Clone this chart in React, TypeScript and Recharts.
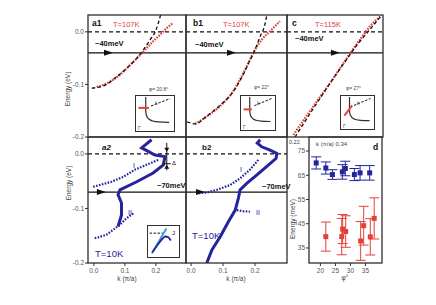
import React from "react";
import {
  ErrorBar,
  Line,
  LineChart,
  ReferenceDot,
  ReferenceLine,
  Scatter,
  ScatterChart,
  XAxis,
  YAxis,
} from "recharts";

const FONT = '"Liberation Sans", Arial, sans-serif';
const RED = "#e4403a";
const BLUE = "#24249c";
const LIGHT_BLUE = "#3f9fdc";
const INK = "#2f2f2f";

// a1: T=107K, phi=20.8
const a1RedK = [0.009, 0.052, 0.089, 0.122, 0.154, 0.17, 0.191, 0.213, 0.235, 0.256];
const a1RedE = [-0.105, -0.095, -0.079, -0.06, -0.041, -0.031, -0.018, -0.006, 0.007, 0.017];
const a1BareK = [-0.007, 0.03, 0.07, 0.11, 0.14, 0.16, 0.18, 0.2, 0.215];
const a1BareE = [-0.107, -0.103, -0.087, -0.067, -0.049, -0.034, -0.016, 0.003, 0.032];

// b1: T=107K, phi=22
const b1RedK = [0.0125, 0.049, 0.091, 0.127, 0.158, 0.184, 0.2, 0.221, 0.247, 0.278];
const b1RedE = [-0.175, -0.161, -0.141, -0.117, -0.085, -0.053, -0.034, -0.015, 0.001, 0.02];
const b1BareK = [-0.013, 0.0125, 0.05, 0.09, 0.13, 0.16, 0.185, 0.2, 0.215, 0.23, 0.237];
const b1BareE = [-0.171, -0.175, -0.16, -0.14, -0.115, -0.085, -0.053, -0.034, -0.01, 0.012, 0.032];

// c: T=115K, phi=27
const cRedK = [0.02, 0.082, 0.134, 0.187, 0.228, 0.259, 0.291];
const cRedE = [-0.196, -0.142, -0.098, -0.05, -0.015, 0.01, 0.029];
const cBareK = [0.025, 0.08, 0.13, 0.18, 0.22, 0.26, 0.296];
const cBareE = [-0.2, -0.148, -0.102, -0.058, -0.024, 0.005, 0.032];

// a2: T=10K
const a2MainK = [0.186, 0.154, 0.197, 0.229, 0.224, 0.191, 0.138, 0.084, 0.078, 0.089, 0.089, 0.078];
const a2MainE = [0.026, 0.011, -0.002, -0.005, -0.02, -0.035, -0.051, -0.066, -0.075, -0.09, -0.112, -0.133];
const a2IK = [0.207, 0.17, 0.132, 0.095, 0.057, 0.019, -0.007];
const a2IE = [-0.011, -0.02, -0.029, -0.042, -0.051, -0.057, -0.061];
const a2IIK = [0.127, 0.105, 0.084, 0.062, 0.041, 0.014, -0.002];
const a2IIE = [-0.109, -0.118, -0.13, -0.139, -0.148, -0.153, -0.155];

// b2: T=10K
const b2MainK = [0.216, 0.207, 0.221, 0.247, 0.268, 0.266, 0.237, 0.205, 0.174, 0.153, 0.148, 0.138, 0.117, 0.091, 0.065, 0.049];
const b2MainE = [0.026, 0.02, 0.013, 0.007, 0.001, -0.008, -0.023, -0.039, -0.054, -0.066, -0.081, -0.103, -0.124, -0.152, -0.176, -0.2];
const b2IK = [0.21, 0.184, 0.153, 0.122, 0.08, 0.049, 0.023];
const b2IE = [-0.011, -0.029, -0.045, -0.057, -0.066, -0.071, -0.072];
const b2IIK = [0.143, 0.162, 0.184];
const b2IIE = [-0.103, -0.105, -0.106];

// d: energy scales vs phi
const dBluePhi = [18.6, 21.8, 24.0, 27.3, 28.3, 31.3, 33.2, 36.4];
const dBlueE = [70.1, 68.0, 65.3, 66.4, 67.8, 65.3, 66.0, 66.0];
const dBlueErr = [2.5, 2.5, 2, 3, 3, 2.5, 3, 3];
const dRedPhi = [21.8, 27.1, 27.4, 28.4, 33.4, 34.4, 36.6, 37.9];
const dRedE = [39.7, 39.7, 42.8, 41.8, 37.9, 44.2, 39.6, 47.2];
const dRedErr = [6, 7.5, 6, 6.5, 8, 8, 7.5, 8.5];

// insets
const fsX = [0.25, 0.25, 0.27, 0.33, 0.45, 0.62, 0.92];
const fsY = [1.0, 0.55, 0.42, 0.32, 0.25, 0.22, 0.21];
const cutX = [0.4, 0.95];
const cutY = [0.72, 0.95];
const a1CutX = [0.04, 0.34];
const a1CutY = [0.66, 0.66];
const b1CutX = [0.05, 0.32];
const b1CutY = [0.6, 0.6];
const cCutX = [0.08, 0.34];
const cCutY = [0.38, 0.72];
const a2LightX = [0.1, 0.62];
const a2LightY = [0.05, 0.95];
const a2DarkX = [0.12, 0.3, 0.48, 0.58, 0.68, 0.78];
const a2DarkY = [0.1, 0.35, 0.58, 0.66, 0.64, 0.52];
const a2FermiX = [0.02, 0.5];
const a2FermiY = [0.78, 0.78];

const pts = (ks: number[], es: number[]) => ks.map((k, i) => ({ k, e: es[i] }));
const dPts = (ps: number[], es: number[], errs: number[]) =>
  ps.map((phi, i) => ({ phi, e: es[i], err: errs[i] }));

const TICK = { fontSize: 6.5, fill: "#555", fontFamily: FONT };
const f1 = (v: number) => v.toFixed(1);

const arrowRight = (p: any) => (
  <polygon
    points={`${p.cx - 6},${p.cy - 3} ${p.cx + 3},${p.cy} ${p.cx - 6},${p.cy + 3}`}
    fill="#111"
  />
);
const triDown = (p: any) => (
  <polygon points={`${p.cx - 2.5},${p.cy - 4} ${p.cx + 2.5},${p.cy - 4} ${p.cx},${p.cy}`} fill="#111" />
);
const triUp = (p: any) => (
  <polygon points={`${p.cx - 2.5},${p.cy + 4} ${p.cx + 2.5},${p.cy + 4} ${p.cx},${p.cy}`} fill="#111" />
);
const square = (color: string) => (p: any) => (
  <rect x={p.cx - 2.5} y={p.cy - 2.5} width={5} height={5} fill={color} />
);

const lineProps = { dot: false, isAnimationActive: false, dataKey: "e" } as const;

function Panel({
  x,
  y,
  w,
  h,
  xDomain,
  yDomain,
  xTicks,
  yTicks,
  children,
}: {
  x: number;
  y: number;
  w: number;
  h: number;
  xDomain: [number, number];
  yDomain: [number, number];
  xTicks?: number[];
  yTicks?: number[];
  children: React.ReactNode;
}) {
  const padL = 30;
  const padB = 22;
  return (
    <div style={{ position: "absolute", left: x - padL, top: y }}>
      <LineChart width={w + padL} height={h + padB} margin={{ top: 0, right: 0, bottom: 0, left: 0 }}>
        <XAxis
          type="number"
          dataKey="k"
          domain={xDomain}
          allowDataOverflow
          height={padB}
          ticks={xTicks}
          tick={xTicks ? TICK : false}
          tickLine={xTicks ? { stroke: INK } : false}
          tickSize={3}
          tickMargin={2}
          axisLine={false}
          tickFormatter={f1}
        />
        <YAxis
          type="number"
          domain={yDomain}
          allowDataOverflow
          width={padL}
          ticks={yTicks}
          tick={yTicks ? TICK : false}
          tickLine={yTicks ? { stroke: INK } : false}
          tickSize={3}
          tickMargin={1}
          axisLine={false}
          tickFormatter={f1}
        />
        {children}
      </LineChart>
    </div>
  );
}

function Inset({
  x,
  y,
  w,
  h,
  children,
}: {
  x: number;
  y: number;
  w: number;
  h: number;
  children: React.ReactNode;
}) {
  return (
    <div
      style={{
        position: "absolute",
        left: x,
        top: y,
        width: w,
        height: h,
        background: "#fff",
        border: `1.3px solid ${INK}`,
        boxSizing: "border-box",
      }}
    >
      <LineChart width={w - 3} height={h - 3} margin={{ top: 1, right: 1, bottom: 1, left: 1 }}>
        <XAxis type="number" dataKey="k" domain={[0, 1]} hide />
        <YAxis type="number" domain={[0, 1]} hide />
        {children}
      </LineChart>
    </div>
  );
}

function FsInset({ x, y, w, h, cx, cy }: { x: number; y: number; w: number; h: number; cx: number[]; cy: number[] }) {
  return (
    <Inset x={x} y={y} w={w} h={h}>
      <Line {...lineProps} data={pts(fsX, fsY)} stroke={INK} strokeWidth={1.2} type="monotone" />
      <Line {...lineProps} data={pts(cutX, cutY)} stroke="#111" strokeWidth={1} strokeDasharray="2.5 1.5" type="linear" />
      <Line {...lineProps} data={pts(cx, cy)} stroke={RED} strokeWidth={2} type="linear" />
    </Inset>
  );
}

const TOP_Y: [number, number] = [-0.2, 0.032];
const BOT_Y: [number, number] = [-0.2, 0.031];
const A_X: [number, number] = [-0.019, 0.297];
const B_X: [number, number] = [-0.016, 0.3];
const C_X: [number, number] = [0, 0.3];

const redDots = { stroke: RED, strokeWidth: 2.2, strokeDasharray: "1.6 1.2", type: "monotone" } as const;
const bareDash = { stroke: "#111", strokeWidth: 1.3, strokeDasharray: "3.5 2.5", type: "monotone" } as const;
const blueSolid = { stroke: BLUE, strokeWidth: 3, type: "linear" } as const;
const blueDots = { stroke: BLUE, strokeWidth: 2.2, strokeDasharray: "1.6 1.4", type: "linear" } as const;

export default function App() {
  const t = { fontFamily: FONT };
  return (
    <div style={{ position: "absolute", left: 0, top: 0, width: 436, height: 305, background: "#fff", overflow: "hidden" }}>
      {/* top row */}
      <Panel x={88} y={15} w={98} h={122} xDomain={A_X} yDomain={TOP_Y} yTicks={[0, -0.1, -0.2]}>
        <ReferenceLine y={0} stroke="#111" strokeDasharray="4 3" strokeWidth={1.2} />
        <ReferenceLine y={-0.04} stroke="#111" strokeWidth={1.3} />
        <Line {...lineProps} {...redDots} data={pts(a1RedK, a1RedE)} />
        <Line {...lineProps} {...bareDash} data={pts(a1BareK, a1BareE)} />
        <ReferenceDot x={0.052} y={-0.04} shape={arrowRight} />
      </Panel>
      <Panel x={186} y={15} w={101} h={122} xDomain={B_X} yDomain={TOP_Y}>
        <ReferenceLine y={0} stroke="#111" strokeDasharray="4 3" strokeWidth={1.2} />
        <ReferenceLine y={-0.04} stroke="#111" strokeWidth={1.3} />
        <Line {...lineProps} {...redDots} data={pts(b1RedK, b1RedE)} />
        <Line {...lineProps} {...bareDash} data={pts(b1BareK, b1BareE)} />
        <ReferenceDot x={0.131} y={-0.04} shape={arrowRight} />
      </Panel>
      <Panel x={287} y={15} w={96} h={122} xDomain={C_X} yDomain={TOP_Y}>
        <ReferenceLine y={0} stroke="#111" strokeDasharray="4 3" strokeWidth={1.2} />
        <ReferenceLine y={-0.04} stroke="#111" strokeWidth={1.3} />
        <Line {...lineProps} {...redDots} data={pts(cRedK, cRedE)} />
        <Line {...lineProps} {...bareDash} data={pts(cBareK, cBareE)} />
        <ReferenceDot x={0.156} y={-0.04} shape={arrowRight} />
      </Panel>

      {/* bottom row */}
      <Panel x={88} y={137} w={98} h={126} xDomain={A_X} yDomain={BOT_Y} xTicks={[0, 0.1, 0.2]} yTicks={[0, -0.1, -0.2]}>
        <ReferenceLine y={0} stroke="#111" strokeDasharray="4 3" strokeWidth={1.2} />
        <ReferenceLine y={-0.07} stroke="#111" strokeWidth={1.3} />
        <Line {...lineProps} {...blueDots} data={pts(a2IK, a2IE)} />
        <Line {...lineProps} {...blueDots} data={pts(a2IIK, a2IIE)} />
        <Line {...lineProps} {...blueSolid} data={pts(a2MainK, a2MainE)} />
        <ReferenceDot x={0.029} y={-0.07} shape={arrowRight} />
        <ReferenceLine segment={[{ x: 0.235, y: 0.02 }, { x: 0.235, y: -0.03 }]} stroke="#111" strokeWidth={1} />
        <ReferenceLine segment={[{ x: 0.222, y: -0.018 }, { x: 0.248, y: -0.018 }]} stroke="#111" strokeWidth={1} />
        <ReferenceDot x={0.235} y={0.004} shape={triDown} />
        <ReferenceDot x={0.235} y={-0.02} shape={triUp} />
      </Panel>
      <Panel x={186} y={137} w={101} h={126} xDomain={B_X} yDomain={BOT_Y} xTicks={[0, 0.1, 0.2]}>
        <ReferenceLine y={0} stroke="#111" strokeDasharray="4 3" strokeWidth={1.2} />
        <ReferenceLine y={-0.07} stroke="#111" strokeWidth={1.3} />
        <Line {...lineProps} {...blueDots} data={pts(b2IK, b2IE)} />
        <Line {...lineProps} {...blueDots} data={pts(b2IIK, b2IIE)} />
        <Line {...lineProps} {...blueSolid} data={pts(b2MainK, b2MainE)} />
        <ReferenceDot x={0.034} y={-0.07} shape={arrowRight} />
      </Panel>

      {/* d panel */}
      <div style={{ position: "absolute", left: 309 - 30, top: 137 }}>
        <ScatterChart width={73 + 30} height={126 + 22} margin={{ top: 0, right: 0, bottom: 0, left: 0 }}>
          <XAxis
            type="number"
            dataKey="phi"
            domain={[16.2, 40.5]}
            ticks={[20, 25, 30, 35]}
            height={22}
            tick={TICK}
            tickLine={{ stroke: INK }}
            tickSize={3}
            tickMargin={2}
            axisLine={false}
          />
          <YAxis
            type="number"
            dataKey="e"
            domain={[28.8, 80.8]}
            ticks={[35, 45, 55, 65, 75]}
            width={30}
            tick={TICK}
            tickLine={{ stroke: INK }}
            tickSize={3}
            tickMargin={1}
            axisLine={false}
          />
          <Scatter data={dPts(dBluePhi, dBlueE, dBlueErr)} fill={BLUE} shape={square(BLUE)} isAnimationActive={false}>
            <ErrorBar dataKey="err" direction="y" width={5} stroke={BLUE} strokeWidth={1} isAnimationActive={false} />
          </Scatter>
          <Scatter data={dPts(dRedPhi, dRedE, dRedErr)} fill={RED} shape={square(RED)} isAnimationActive={false}>
            <ErrorBar dataKey="err" direction="y" width={5} stroke={RED} strokeWidth={1} isAnimationActive={false} />
          </Scatter>
        </ScatterChart>
      </div>

      {/* insets */}
      <FsInset x={135} y={95} w={40} h={37} cx={a1CutX} cy={a1CutY} />
      <FsInset x={240} y={95} w={36} h={36} cx={b1CutX} cy={b1CutY} />
      <FsInset x={340} y={95} w={35} h={35} cx={cCutX} cy={cCutY} />
      <Inset x={147} y={225} w={33} h={33}>
        <Line {...lineProps} data={pts(a2FermiX, a2FermiY)} stroke="#111" strokeWidth={1} strokeDasharray="2.5 1.5" type="linear" />
        <Line {...lineProps} data={pts(a2LightX, a2LightY)} stroke={LIGHT_BLUE} strokeWidth={2} type="linear" />
        <Line {...lineProps} data={pts(a2DarkX, a2DarkY)} stroke={BLUE} strokeWidth={1.8} type="monotone" />
      </Inset>

      {/* frames and labels */}
      <svg width={436} height={305} style={{ position: "absolute", left: 0, top: 0, pointerEvents: "none" }}>
        <g fill="none" stroke={INK} strokeWidth={1.3}>
          <rect x={88} y={15} width={98} height={122} />
          <rect x={186} y={15} width={101} height={122} />
          <rect x={287} y={15} width={96} height={122} />
          <rect x={88} y={137} width={98} height={126} />
          <rect x={186} y={137} width={101} height={126} />
          <rect x={309} y={137} width={73} height={126} />
        </g>
        <g style={t}>
          <text x={92} y={26} fontSize={8.5} fontWeight="bold" fill="#111">a1</text>
          <text x={113} y={27} fontSize={7.5} fill={RED}>T=107K</text>
          <text x={95} y={46} fontSize={7.5} fontWeight="bold" fill="#111">~40meV</text>
          <text x={149} y={91} fontSize={5} fill="#444">φ= 20.8°</text>

          <text x={193} y={26} fontSize={8.5} fontWeight="bold" fill="#111">b1</text>
          <text x={223} y={27} fontSize={7.5} fill={RED}>T=107K</text>
          <text x={195} y={47} fontSize={7.5} fontWeight="bold" fill="#111">~40meV</text>
          <text x={254} y={89} fontSize={5} fill="#444">φ= 22°</text>

          <text x={292} y={26} fontSize={8.5} fontWeight="bold" fill="#111">c</text>
          <text x={315} y={27} fontSize={7.5} fill={RED}>T=115K</text>
          <text x={295} y={41} fontSize={7.5} fontWeight="bold" fill="#111">~40meV</text>
          <text x={346} y={90} fontSize={5} fill="#444">φ= 27°</text>

          <text x={102} y={150} fontSize={8} fontWeight="bold" fontStyle="italic" fill="#111">a2</text>
          <text x={133} y={168} fontSize={7} fill={BLUE}>I</text>
          <text x={128} y={215} fontSize={7} fill={BLUE}>II</text>
          <text x={157} y={188} fontSize={7.5} fontWeight="bold" fill="#111">~70meV</text>
          <text x={172} y={165} fontSize={6} fill="#111">Δ</text>
          <text x={95} y={257} fontSize={9.5} fill={BLUE}>T=10K</text>

          <text x={202} y={150} fontSize={8} fontWeight="bold" fill="#111">b2</text>
          <text x={240} y={172} fontSize={7} fill={BLUE}>I</text>
          <text x={256} y={215} fontSize={7} fill={BLUE}>II</text>
          <text x={262} y={189} fontSize={7.5} fontWeight="bold" fill="#111">~70meV</text>
          <text x={192} y={239} fontSize={9.5} fill={BLUE}>T=10K</text>

          <text x={289} y={144} fontSize={5.5} fill="#444">0.22</text>
          <text x={316} y={146} fontSize={6} fill="#444">k (π/a) 0.34</text>
          <text x={373} y={150} fontSize={8.5} fontWeight="bold" fill="#111">d</text>

          <text x={138} y={130} fontSize={5} fill="#444">Γ</text>
          <text x={155} y={105} fontSize={5} fill="#444">k</text>
          <text x={243} y={129} fontSize={5} fill="#444">Γ</text>
          <text x={257} y={105} fontSize={5} fill="#444">k</text>
          <text x={343} y={128} fontSize={5} fill="#444">Γ</text>
          <text x={357} y={105} fontSize={5} fill="#444">k</text>
          <text x={172} y={235} fontSize={6} fill="#111">J</text>

          <text x={127} y={281} fontSize={6.5} fill="#444" textAnchor="middle">k (π/a)</text>
          <text x={236} y={281} fontSize={6.5} fill="#444" textAnchor="middle">k (π/a)</text>
          <text x={345} y={280} fontSize={6.5} fill="#444" textAnchor="middle">φ°</text>
          <text x={68} y={89} fontSize={6.5} fill="#444" textAnchor="middle" dominantBaseline="middle" transform="rotate(-90 68 89)">Energy (eV)</text>
          <text x={69} y={183} fontSize={6.5} fill="#444" textAnchor="middle" dominantBaseline="middle" transform="rotate(-90 69 183)">Energy (eV)</text>
          <text x={293} y={219} fontSize={6.5} fill="#444" textAnchor="middle" dominantBaseline="middle" transform="rotate(-90 293 219)">Energy (meV)</text>
        </g>
      </svg>
    </div>
  );
}
